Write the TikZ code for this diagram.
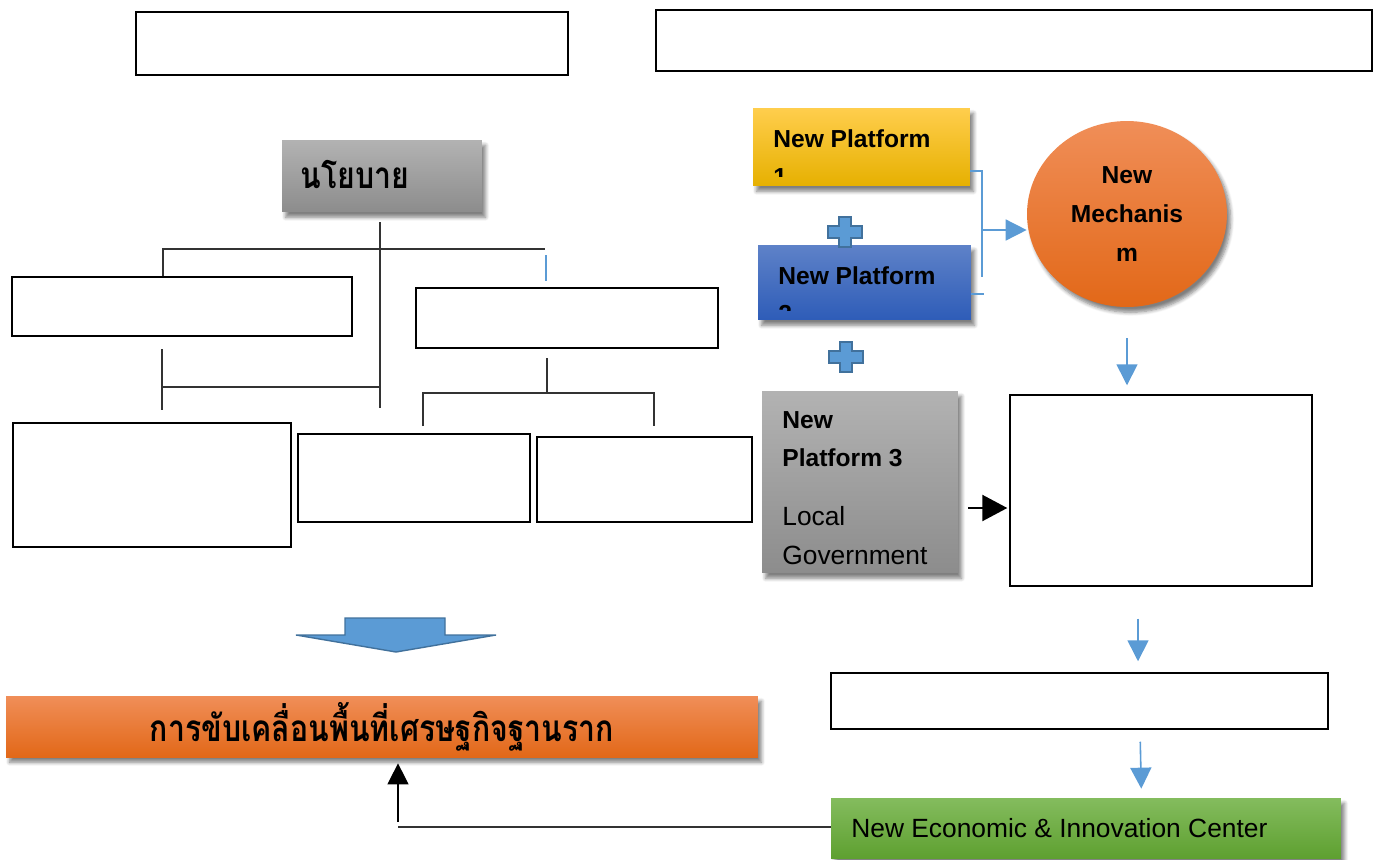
\documentclass[tikz,border=0pt]{standalone}
\usepackage{fontspec}
\setmainfont{Liberation Sans}
\newfontfamily\thaifont[Script=Thai, FakeStretch=0.82]{Loma}
\usetikzlibrary{positioning, arrows.meta, calc, shapes.geometric, shadows.blur}

\definecolor{ppblue}{HTML}{5B9BD5}
\definecolor{ppblueline}{HTML}{41719C}
\definecolor{treegray}{HTML}{333333}

\tikzset{
  emptybox/.style={draw=black, line width=0.85pt, fill=white, inner sep=0pt},
  softshadow/.style={blur shadow={shadow xshift=2pt, shadow yshift=-3pt, shadow blur steps=6, shadow opacity=50}},
  colorbox/.style={softshadow, inner sep=0pt, shading=axis, shading angle=0},
  yellowfill/.style={top color=yellow!45!orange!70!white, middle color={rgb,255:red,255;green,192;blue,0}, bottom color={rgb,255:red,230;green,176;blue,0}},
  bluefill/.style={top color={rgb,255:red,94;green,130;blue,200}, bottom color={rgb,255:red,46;green,92;blue,184}},
  grayfill/.style={top color=black!30, bottom color=black!45},
  orangefill/.style={top color={rgb,255:red,240;green,142;blue,88}, middle color={rgb,255:red,240;green,120;blue,40}, bottom color={rgb,255:red,226;green,104;blue,24}},
  greenfill/.style={top color={rgb,255:red,132;green,188;blue,94}, bottom color={rgb,255:red,94;green,160;blue,48}},
  boxtext/.style={inner sep=0pt, align=left, font=\bfseries\fontsize{14}{22}\selectfont},
  tline/.style={draw=treegray, line width=0.85pt},
  bline/.style={draw=ppblue, line width=0.7pt},
  barrow/.style={draw=ppblue, line width=0.9pt, -{Triangle[length=0.42cm, width=0.42cm]}},
  plussign/.pic={
    \draw[fill=ppblue, draw=ppblueline, line width=0.8pt]
      (-6,-15) -- (6,-15) -- (6,-6) -- (17,-6) -- (17,6) -- (6,6) -- (6,15)
      -- (-6,15) -- (-6,6) -- (-17,6) -- (-17,-6) -- (-6,-6) -- cycle;
  }
}

\begin{document}
\begin{tikzpicture}[x=0.02cm, y=-0.02cm]
\useasboundingbox (0,0) rectangle (1379,859);

% top empty boxes
\node[emptybox, minimum width=8.64cm, minimum height=1.26cm] (topleft) at (352,43.5) {};
\node[emptybox, minimum width=14.32cm, minimum height=1.22cm] (topright) at (1014,40.5) {};

% policy tree
\node[colorbox, grayfill, minimum width=4cm, minimum height=1.44cm] (policy) at (382,176) {};
\node[anchor=west, inner sep=0pt, font=\thaifont\bfseries\fontsize{21}{24}\selectfont] (policytext) at (300,174) {นโยบาย};

\node[emptybox, minimum width=6.8cm, minimum height=1.18cm] (lvl1a) at (182,306.5) {};
\node[emptybox, minimum width=6.04cm, minimum height=1.2cm] (lvl1b) at (567,318) {};
\node[emptybox, minimum width=5.56cm, minimum height=2.48cm] (lvl2a) at (152,485) {};
\node[emptybox, minimum width=4.64cm, minimum height=1.76cm] (lvl2b) at (414,478) {};
\node[emptybox, minimum width=4.3cm, minimum height=1.7cm] (lvl2c) at (644.5,479.5) {};

\coordinate (trunk) at (380,249);
\coordinate (join1) at (162,387);
\coordinate (join2) at (547,393);
\draw[tline] (380,222) -- (380,408);
\draw[tline] (lvl1a.north -| 163,0) -- (163,249) -- (545,249);
\draw[bline] (546,255) -- (546,281);
\draw[tline] (162,349) -- (162,410);
\draw[tline] (join1) -- (join1 -| trunk);
\draw[tline] (547,358) -- (join2);
\draw[tline] (423,426) -- (423,393) -- (654,393) -- (654,426);

% big arrow down
\draw[fill=ppblue, draw=ppblueline, line width=0.8pt]
  (345,618) -- (445,618) -- (445,635) -- (496,635) -- (396,652) -- (296,635) -- (345,635) -- cycle;

\node[colorbox, orangefill, minimum width=15.04cm, minimum height=1.22cm,
      font=\thaifont\bfseries\fontsize{21}{24}\selectfont] (goal) at (382,726.5) {การขับเคลื่อนพื้นที่เศรษฐกิจฐานราก};

% platforms
\node[colorbox, yellowfill, minimum width=4.34cm, minimum height=1.56cm] (plat1) at (861.5,147) {};
\begin{scope}
  \clip (plat1.north west) rectangle ([yshift=0.2cm]plat1.south east);
  \node[boxtext, anchor=north west] (plat1text) at (773,129) {New Platform\\1};
\end{scope}

\node[colorbox, bluefill, minimum width=4.26cm, minimum height=1.5cm] (plat2) at (864.5,282.5) {};
\begin{scope}
  \clip (plat2.north west) rectangle ([yshift=0.2cm]plat2.south east);
  \node[boxtext, anchor=north west] (plat2text) at (778,266) {New Platform\\2};
\end{scope}

\node[colorbox, grayfill, minimum width=3.92cm, minimum height=3.64cm] (plat3) at (860,482) {};
\begin{scope}
  \clip (plat3.north west) rectangle ([yshift=0.12cm]plat3.south east);
  \node[boxtext, anchor=north west] (plat3text) at (782,411)
    {New\\Platform 3\\[0.4cm]\mdseries\fontsize{15}{22}\selectfont Local\\\mdseries\fontsize{15}{22}\selectfont Government};
\end{scope}

\pic at (845,232) {plussign};
\pic at (846,357) {plussign};

% mechanism
\node[ellipse, colorbox, orangefill, minimum width=4cm, minimum height=3.72cm,
      align=center, font=\bfseries\fontsize{14}{22}\selectfont] (mech) at (1127,214) {New\\Mechanis\\m};

\coordinate (brtop) at (982,171);
\coordinate (brbot) at (982,277);
\coordinate (brmid) at (983,230);
\draw[bline] (plat1.east |- brtop) -- (brtop) -- (brbot);
\draw[bline] (971,294) -- (984,294);
\draw[barrow] (brmid) -- (brmid -| mech.west);

% right column
\node[emptybox, minimum width=6.04cm, minimum height=3.82cm] (result1) at (1161,490.5) {};
\node[emptybox, minimum width=9.94cm, minimum height=1.12cm] (result2) at (1079.5,701) {};
\node[colorbox, greenfill, minimum width=10.2cm, minimum height=1.2cm] (center) at (1086,828) {};
\node[anchor=west, inner sep=0pt, font=\fontsize{15}{18}\selectfont] (centertext) at (851,828) {New Economic \& Innovation Center};

\draw[barrow, shorten <=0.62cm, shorten >=0.18cm] (mech.south) -- (mech.south |- result1.north);
\draw[barrow, shorten <=0.64cm, shorten >=0.22cm] ([xshift=-0.46cm]result1.south) -- ([xshift=-0.46cm]result1.south |- result2.north);
\draw[barrow, shorten <=0.24cm, shorten >=0.18cm] ([xshift=1.21cm]result2.south) -- ([xshift=1.24cm]result2.south |- center.north);

\draw[-{Triangle[length=0.5cm, width=0.52cm]}, line width=1.3pt, shorten <=0.2cm, shorten >=0.04cm]
  (plat3.east |- 0,508) -- (result1.west |- 0,508);

% feedback to goal
\coordinate (bend) at (398,827);
\draw[line width=0.8pt, draw=treegray] (center.west |- bend) -- (bend);
\draw[-{Triangle[length=0.42cm, width=0.42cm]}, line width=0.7pt, shorten <=0.1cm, shorten >=0.12cm]
  (bend) -- (bend |- goal.south);
\end{tikzpicture}
\end{document}
